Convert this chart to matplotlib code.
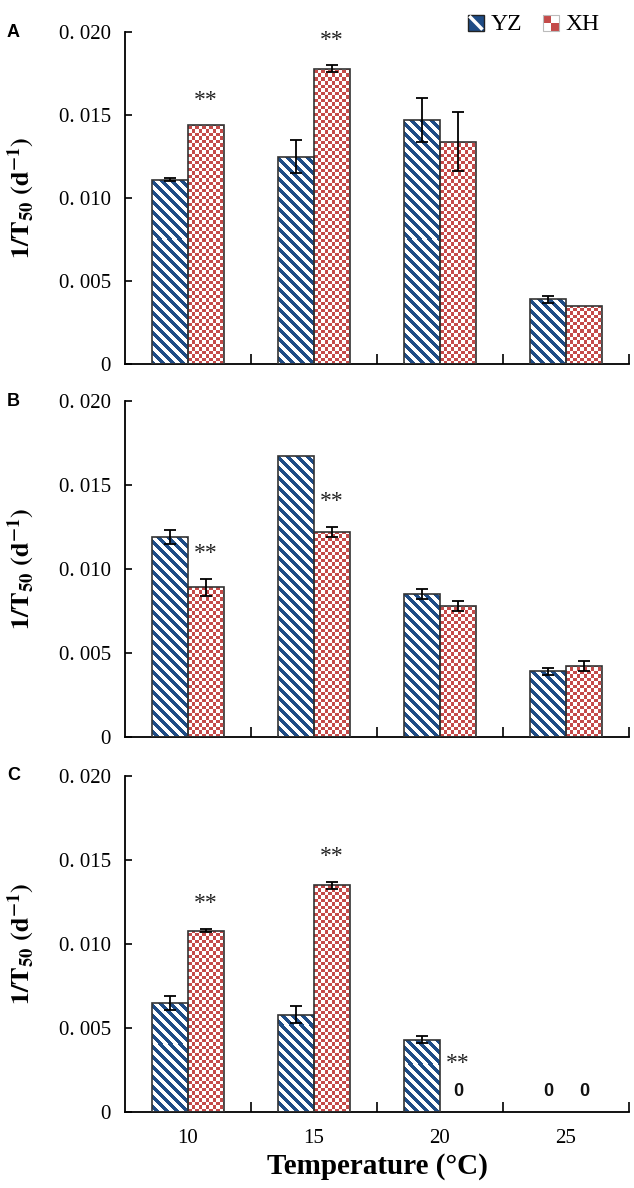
import numpy as np
import matplotlib
matplotlib.use("Agg")
import matplotlib.pyplot as plt
from matplotlib.patches import Rectangle
from matplotlib.legend_handler import HandlerBase
from matplotlib.lines import Line2D

# ---------------- data ----------------
temps = ['10', '15', '20', '25']
series = ['YZ', 'XH']

A_yz = [0.0111, 0.0125, 0.0147, 0.0039]
A_yz_err = [0.0001, 0.0010, 0.0013, 0.0002]
A_xh = [0.0144, 0.0178, 0.0134, 0.0035]
A_xh_err = [0.0, 0.0002, 0.0018, 0.0]

B_yz = [0.0119, 0.0167, 0.0085, 0.0039]
B_yz_err = [0.0004, 0.0, 0.0003, 0.0002]
B_xh = [0.0089, 0.0122, 0.0078, 0.0042]
B_xh_err = [0.0005, 0.0003, 0.0003, 0.0003]

C_yz = [0.0065, 0.0058, 0.0043, 0.0]
C_yz_err = [0.0004, 0.0005, 0.0002, 0.0]
C_xh = [0.0108, 0.0135, 0.0, 0.0]
C_xh_err = [0.0001, 0.0002, 0.0, 0.0]

# significance marks on XH bars (index of temperature)
A_sig = [0, 1]
B_sig = [0, 1]
C_sig = [0, 1, 2]
# bars with value 0 that are labelled "0": (series index, temp index)
C_zero = [(1, 2), (0, 3), (1, 3)]

yticks = [0, 0.005, 0.010, 0.015, 0.020]
yticklabels = ['0', '0. 005', '0. 010', '0. 015', '0. 020']
panel_letters = ['A', 'B', 'C']

# ---------------- style ----------------
BLUE = '#1f4c86'
RED = '#c44a49'
EDGE = '#333333'
SERIF = ['Liberation Serif', 'DejaVu Serif']
SANS = ['Liberation Sans', 'DejaVu Sans']
NARROW = ['Liberation Sans Narrow', 'Liberation Sans', 'DejaVu Sans']
plt.rcParams['font.family'] = SERIF
plt.rcParams['mathtext.fontset'] = 'stix'

W, H = 634, 1188
DPI = 100
fig = plt.figure(figsize=(W / DPI, H / DPI), dpi=DPI)

left, width = 125 / W, 504 / W
panels = [
    (1 - 364 / H, 332 / H),
    (1 - 737 / H, 336 / H),
    (1 - 1112 / H, 336 / H),
]
data = [
    (A_yz, A_yz_err, A_xh, A_xh_err, A_sig, []),
    (B_yz, B_yz_err, B_xh, B_xh_err, B_sig, []),
    (C_yz, C_yz_err, C_xh, C_xh_err, C_sig, C_zero),
]

bw = 0.285
x = np.arange(len(temps))


def pattern_image(ax, kind):
    """Return an RGB array of the fill pattern in axes pixel space."""
    bb = ax.get_position()
    pw = int(round(bb.width * W))
    ph = int(round(bb.height * H))
    c = np.arange(pw)[None, :]
    r = np.arange(ph)[:, None]
    if kind == 'stripe':
        P = 10
        mask = ((c - r) % P) < 4.5
        col = np.array(matplotlib.colors.to_rgb(BLUE))
    else:
        s = 3.5
        mask = ((np.floor(c / s) + np.floor(r / s)) % 2) == 0
        col = np.array(matplotlib.colors.to_rgb(RED))
    img = np.ones((ph, pw, 3))
    img[~mask] = col
    return img


for k, (ax_bottom, ax_h) in enumerate(panels):
    yz, yz_err, xh, xh_err, sig, zeros = data[k]
    ax = fig.add_axes([left, ax_bottom, width, ax_h])
    ax.set_xlim(-0.5, 3.5)
    ax.set_ylim(0, 0.020)

    img_s = pattern_image(ax, 'stripe')
    img_c = pattern_image(ax, 'check')

    for vals, errs, off, img in ((yz, yz_err, -bw / 2, img_s), (xh, xh_err, bw / 2, img_c)):
        bars = ax.bar(x + off, vals, width=bw, facecolor='none', edgecolor=EDGE,
                      linewidth=1.2, zorder=3)
        for b, v in zip(bars, vals):
            if v <= 0:
                b.set_visible(False)
                continue
            im = ax.imshow(img, extent=(-0.5, 3.5, 0, 0.020), origin='upper',
                           aspect='auto', interpolation='nearest', zorder=2)
            im.set_clip_path(b)
        ex = [xi for xi, e in zip(x + off, errs) if e > 0]
        ev = [v for v, e in zip(vals, errs) if e > 0]
        ee = [e for e in errs if e > 0]
        ax.errorbar(ex, ev, yerr=ee, fmt='none', ecolor='black', elinewidth=1.3,
                    capsize=4, capthick=1.3, zorder=4)

    for i in sig:
        top = xh[i] + xh_err[i]
        ytxt = top + 0.0015 if xh[i] > 0 else 0.0029
        ax.text(x[i] + bw / 2, ytxt, '**', ha='center', va='center',
                fontsize=17, family=SERIF, color='#222222')
    for si, ti in zeros:
        off = -bw / 2 if si == 0 else bw / 2
        ax.text(x[ti] + off, 0.0012, '0', ha='center', va='center',
                fontsize=13, family=NARROW, fontweight='bold', color='#111111')

    for sp in ('top', 'right'):
        ax.spines[sp].set_visible(False)
    for sp in ('left', 'bottom'):
        ax.spines[sp].set_linewidth(1.3)

    ax.set_yticks(yticks)
    ax.set_yticklabels(yticklabels, fontsize=15)
    ax.tick_params(axis='y', direction='in', length=5, width=1.2, pad=10)

    ax.set_xticks(x)
    ax.set_xticks([0.5, 1.5, 2.5, 3.5], minor=True)
    ax.tick_params(axis='x', which='major', length=0, pad=12, labelsize=15)
    ax.tick_params(axis='x', which='minor', direction='in', length=7, width=1.2)
    if k == 2:
        ax.set_xticklabels(temps)
        ax.set_xlabel('Temperature (\u00b0C)', fontsize=21, fontweight='bold', labelpad=4)
    else:
        ax.set_xticklabels([])

    ax.set_ylabel(r'$\mathbf{1/T_{50}\ (d^{-1})}$', fontsize=19)
    ax.yaxis.set_label_coords(-0.175, 0.5)

    fig.text(7 / W, ax_bottom + ax_h, panel_letters[k], fontsize=13, fontweight='bold',
             family=SANS, ha='left', va='center')


class StripeHandler(HandlerBase):
    def create_artists(self, legend, orig_handle, xd, yd, w, h, fontsize, trans):
        r = Rectangle((xd, yd), w, h, facecolor=BLUE, edgecolor='#222222', lw=1.0, transform=trans)
        l = Line2D([xd + w * 0.15, xd + w * 0.85], [yd + h * 0.85, yd + h * 0.15],
                   color='white', lw=2.5, transform=trans)
        return [r, l]


class CheckHandler(HandlerBase):
    def create_artists(self, legend, orig_handle, xd, yd, w, h, fontsize, trans):
        arts = [Rectangle((xd, yd), w, h, facecolor='white', edgecolor='none', transform=trans)]
        arts.append(Rectangle((xd, yd + h / 2), w / 2, h / 2, facecolor=RED, edgecolor='none', transform=trans))
        arts.append(Rectangle((xd + w / 2, yd), w / 2, h / 2, facecolor=RED, edgecolor='none', transform=trans))
        arts.append(Rectangle((xd, yd), w, h, facecolor='none', edgecolor='#bbbbbb', lw=0.8, transform=trans))
        return arts


h1 = Rectangle((0, 0), 1, 1)
h2 = Rectangle((0, 0), 1, 1, facecolor='r')
fig.legend([h1, h2], series, handler_map={h1: StripeHandler(), h2: CheckHandler()},
           loc='upper right', bbox_to_anchor=(614 / W, 1 - 0 / H), ncol=2, frameon=False,
           fontsize=17, handlelength=0.65, handleheight=0.65, handletextpad=0.3,
           columnspacing=0.9, borderaxespad=0.2)

fig.savefig('out.png', dpi=DPI)
